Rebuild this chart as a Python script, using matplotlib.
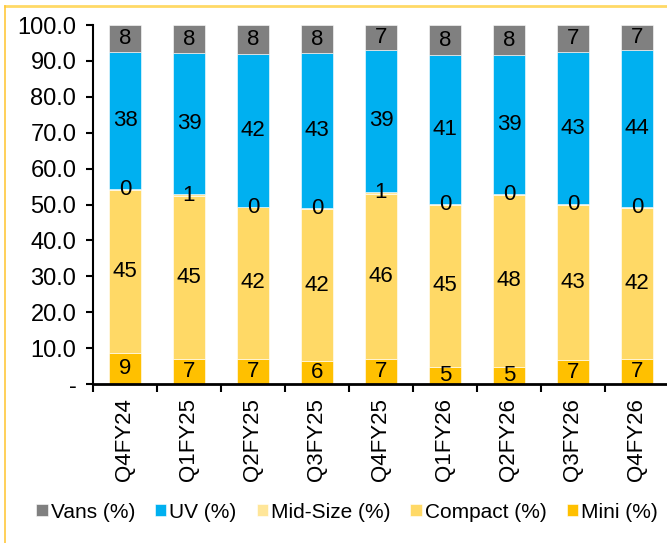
import matplotlib
matplotlib.use('Agg')
import matplotlib.pyplot as plt
from matplotlib.lines import Line2D
import numpy as np

plt.rcParams['font.family'] = ['Liberation Sans', 'DejaVu Sans']

quarters = ['Q4FY24', 'Q1FY25', 'Q2FY25', 'Q3FY25', 'Q4FY25',
            'Q1FY26', 'Q2FY26', 'Q3FY26', 'Q4FY26']
mini = [8.6, 7.0, 7.1, 6.3, 7.0, 4.6, 4.8, 6.6, 7.0]
compact = [45.4, 45.3, 42.1, 42.4, 46.0, 45.4, 47.8, 43.2, 42.0]
mid_size = [0.4, 0.6, 0.2, 0.2, 0.6, 0.2, 0.3, 0.2, 0.2]
uv = [38.0, 39.2, 42.4, 43.2, 39.4, 41.4, 38.7, 42.6, 43.8]
vans = [7.6, 7.9, 8.2, 7.9, 7.0, 8.4, 8.4, 7.4, 7.0]

series = [
    ('Mini (%)', mini, '#FFC000'),
    ('Compact (%)', compact, '#FFD966'),
    ('Mid-Size (%)', mid_size, '#FFE699'),
    ('UV (%)', uv, '#00B0F0'),
    ('Vans (%)', vans, '#808080'),
]

W, H = 667, 543
fig = plt.figure(figsize=(W / 100, H / 100), dpi=100)
ax = fig.add_axes([93 / W, 1 - 384 / H, 576 / W, 359 / H])

x = np.arange(len(quarters))
bottom = np.zeros(len(quarters))
handles = {}
for name, vals, color in series:
    vals = np.array(vals)
    b = ax.bar(x, vals, 0.5, bottom=bottom, color=color,
               edgecolor='white', linewidth=0.4, label=name)
    handles[name] = b
    for xi, v, b0 in zip(x, vals, bottom):
        ax.text(xi, b0 + v / 2, f'{v:.0f}', ha='center', va='center',
                fontsize=16, color='black')
    bottom += vals

ax.set_xlim(-0.5, len(quarters) - 0.5)
ax.set_ylim(0, 100)
ax.set_yticks(np.arange(0, 101, 10))
ax.set_yticklabels(['-'] + [f'{v:.1f}' for v in range(10, 101, 10)],
                   fontsize=17)
ax.set_xticks(x)
ax.set_xticklabels(quarters, rotation=90, fontsize=16)
ax.set_xticks(np.arange(-0.5, len(quarters), 1), minor=True)
ax.tick_params(axis='x', which='major', length=0, pad=10)
ax.tick_params(axis='x', which='minor', length=6, width=1.5, direction='out')
ax.tick_params(axis='y', length=5, width=1.5, direction='out', pad=7)

for s in ['top', 'right']:
    ax.spines[s].set_visible(False)
ax.spines['left'].set_linewidth(1.5)
ax.spines['bottom'].set_linewidth(2)

order = ['Vans (%)', 'UV (%)', 'Mid-Size (%)', 'Compact (%)', 'Mini (%)']
fig.legend([handles[n] for n in order], order, loc='center',
           bbox_to_anchor=(347 / W, 1 - 512 / H), ncol=5, frameon=False,
           fontsize=15, handlelength=0.55, handleheight=0.55,
           handletextpad=0.15, columnspacing=0.95)

# outer frame (only top and left visible in the crop)
fig.add_artist(Line2D([5 / W, 1], [1 - 5.5 / H, 1 - 5.5 / H],
                      transform=fig.transFigure, color='#FFD966', lw=2))
fig.add_artist(Line2D([5 / W, 5 / W], [0, 1 - 5.5 / H],
                      transform=fig.transFigure, color='#FFC83D', lw=1.2))

fig.savefig('out.png', dpi=100)
